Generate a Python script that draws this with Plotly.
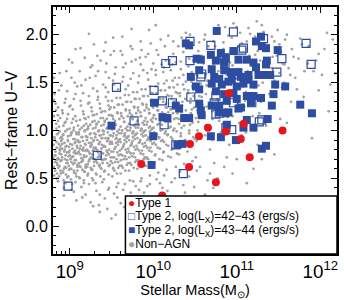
import plotly.graph_objects as go

# ---------------- data (log stellar mass, rest-frame U-V) ----------------
type1_logm = [10.905, 10.655, 10.869, 11.083, 10.548, 10.44, 11.048, 11.548, 9.857, 10.429, 11.155, 10.75, 10.107]
type1_uv   = [1.39, 1.03, 0.99, 1.07, 0.94, 0.86, 0.91, 1.00, 0.65, 0.62, 0.72, 0.46, 0.32]

open_logm = [10.96, 10.44, 10.69, 11.08, 11.32, 11.83, 11.54, 11.89, 10.23, 10.15, 10.44, 10.85, 10.86,
             10.58, 10.57, 10.96, 11.48, 10.01, 10.11, 10.23, 10.45, 10.73, 10.75, 10.96, 11.18, 10.79,
             10.75, 11.30, 10.94, 9.77, 9.56, 10.13, 10.87, 10.27, 9.33, 8.98, 10.36, 11.27, 11.06]
open_uv   = [2.03, 1.93, 1.89, 1.86, 1.96, 1.91, 1.75, 1.69, 1.73, 1.70, 1.73, 1.76, 1.69,
             1.59, 1.56, 1.58, 1.61, 1.42, 1.31, 1.29, 1.35, 1.29, 1.36, 1.29, 1.29, 1.18,
             1.17, 1.11, 1.01, 1.10, 1.45, 1.06, 1.03, 0.85, 0.74, 0.42, 0.55, 1.09, 1.84]

filled_logm = [10.76, 10.43, 10.52, 10.57, 10.69, 10.75, 10.81, 10.85, 10.96, 11.02, 11.23, 11.29, 11.35,
               11.30, 11.49, 11.20, 11.23, 11.35, 11.36, 10.45, 10.51, 10.55, 10.73, 10.79, 10.93, 11.02,
               11.05, 10.94, 10.75, 10.82, 11.00, 10.96, 11.14, 11.20, 11.26, 11.35, 11.40, 11.46, 11.58,
               11.44, 11.29, 11.12, 11.00, 10.88, 10.79, 10.55, 10.57, 10.27, 10.31, 10.01, 10.11, 10.17,
               10.37, 10.43, 10.58, 10.79, 10.87, 10.90, 11.02, 11.17, 11.42, 11.37, 11.76, 11.90, 10.88,
               10.69, 10.81, 10.99, 11.08, 10.00, 10.29, 9.50, 9.98, 11.30, 11.35, 10.70, 11.05, 11.20,
               11.12, 11.20, 10.35, 10.85, 10.39, 10.87, 11.12, 10.55, 10.70, 10.85, 11.14, 10.70, 10.90, 11.08]
filled_uv   = [2.04, 1.89, 1.75, 1.74, 1.79, 1.73, 1.81, 1.71, 1.83, 1.74, 1.93, 1.98, 1.86,
               1.88, 1.84, 1.71, 1.66, 1.69, 1.73, 1.56, 1.46, 1.43, 1.56, 1.54, 1.61, 1.61,
               1.56, 1.53, 1.41, 1.48, 1.46, 1.39, 1.53, 1.48, 1.58, 1.58, 1.58, 1.48, 1.46,
               1.38, 1.34, 1.36, 1.33, 1.31, 1.26, 1.28, 1.21, 1.26, 1.23, 1.29, 1.14, 1.13,
               1.13, 1.13, 1.16, 1.19, 1.18, 1.19, 1.23, 1.29, 1.26, 1.12, 1.27, 1.18, 1.06,
               0.94, 0.93, 0.90, 1.03, 0.94, 0.85, 1.05, 0.64, 0.81, 0.84, 1.26, 1.24, 1.36,
               1.11, 1.03, 0.86, 1.38, 1.91, 1.76, 1.74, 1.63, 1.64, 1.63, 1.58, 1.49, 1.51, 1.49]

# non-AGN field galaxies
gray_pts = [
 (8.81,0.62),(8.83,0.78),(8.85,0.55),(8.82,0.91),(8.87,0.70),(8.84,1.02),(8.89,0.84),(8.81,1.15),(8.86,0.47),
 (8.88,0.99),(8.83,1.28),(8.85,0.66),(8.87,1.42),(8.82,0.74),(8.89,0.58),(8.84,0.88),(8.86,1.10),(8.81,1.55),
 (8.91,0.72),(8.93,0.60),(8.95,0.83),(8.92,0.95),(8.97,0.51),(8.94,1.08),(8.99,0.77),(8.96,0.66),(8.91,1.21),
 (8.98,0.89),(8.93,0.40),(8.95,1.33),(8.92,0.56),(8.97,1.01),(8.99,0.63),(8.94,0.80),(8.96,1.62),(8.91,0.86),
 (8.98,1.17),(8.93,0.32),(8.84,0.69),(8.88,0.81),(8.95,0.74),(8.90,0.93),
 (9.01,0.70),(9.03,0.85),(9.05,0.58),(9.02,0.97),(9.07,0.76),(9.04,1.12),(9.09,0.64),(9.06,0.91),(9.01,1.26),
 (9.08,0.52),(9.03,0.44),(9.05,1.03),(9.02,0.67),(9.07,1.38),(9.09,0.82),(9.04,0.73),(9.06,1.50),(9.01,0.60),
 (9.08,0.98),(9.03,1.71),(9.05,0.36),(9.07,0.88),(9.00,0.79),(9.06,0.69),
 (9.11,0.78),(9.13,0.62),(9.15,0.93),(9.12,0.50),(9.17,1.05),(9.14,0.71),(9.19,0.85),(9.16,1.20),(9.11,0.96),
 (9.18,0.57),(9.13,1.31),(9.15,0.68),(9.12,0.88),(9.17,0.45),(9.19,1.12),(9.14,1.47),(9.16,0.79),(9.11,0.66),
 (9.18,1.00),(9.13,1.86),(9.15,0.30),(9.17,0.74),(9.12,0.81),(9.19,0.62),
 (9.21,0.80),(9.23,0.68),(9.25,0.97),(9.22,0.55),(9.27,1.09),(9.24,0.76),(9.29,0.90),(9.26,1.24),(9.21,0.62),
 (9.28,0.48),(9.23,1.36),(9.25,0.84),(9.22,1.02),(9.27,0.71),(9.29,1.16),(9.24,1.55),(9.26,0.59),(9.21,0.93),
 (9.28,0.79),(9.23,2.01),(9.25,0.25),(9.27,1.68),(9.20,0.73),(9.26,0.87),
 (9.31,0.82),(9.33,0.66),(9.35,1.00),(9.32,0.54),(9.37,1.13),(9.34,0.77),(9.39,0.92),(9.36,1.28),(9.31,0.45),
 (9.38,0.60),(9.33,1.41),(9.35,0.86),(9.32,1.06),(9.37,0.72),(9.39,1.20),(9.34,1.62),(9.36,0.33),(9.31,0.96),
 (9.38,0.81),(9.33,1.78),(9.35,0.22),(9.37,0.95),(9.30,0.70),(9.36,0.64),
 (9.41,0.84),(9.43,0.70),(9.45,1.03),(9.42,0.58),(9.47,1.16),(9.44,0.79),(9.49,0.95),(9.46,1.31),(9.41,0.49),
 (9.48,0.64),(9.43,1.45),(9.45,0.89),(9.42,1.09),(9.47,0.75),(9.49,1.24),(9.44,1.70),(9.46,0.38),(9.41,0.99),
 (9.48,0.86),(9.43,1.92),(9.45,0.18),(9.47,1.55),(9.40,0.76),(9.46,0.92),
 (9.51,0.86),(9.53,0.72),(9.55,1.06),(9.52,0.61),(9.57,1.19),(9.54,0.81),(9.59,0.97),(9.56,1.34),(9.51,0.52),
 (9.58,0.67),(9.53,1.48),(9.55,0.91),(9.52,1.12),(9.57,0.77),(9.59,1.27),(9.54,1.59),(9.56,0.41),(9.51,1.01),
 (9.58,0.88),(9.53,1.83),(9.55,0.12),(9.57,0.30),(9.50,0.78),(9.56,0.95),
 (9.61,0.88),(9.63,0.74),(9.65,1.09),(9.62,0.63),(9.67,1.22),(9.64,0.83),(9.69,1.00),(9.66,1.37),(9.61,0.55),
 (9.68,0.70),(9.63,1.51),(9.65,0.94),(9.62,1.15),(9.67,0.80),(9.69,1.30),(9.64,1.66),(9.66,0.44),(9.61,1.04),
 (9.68,0.92),(9.63,1.98),(9.65,0.20),(9.67,1.43),(9.60,0.79),(9.66,0.97),
 (9.71,0.90),(9.73,0.76),(9.75,1.12),(9.72,0.66),(9.77,1.25),(9.74,0.85),(9.79,1.03),(9.76,1.40),(9.71,0.58),
 (9.78,0.72),(9.73,1.54),(9.75,0.97),(9.72,1.18),(9.77,0.83),(9.79,1.33),(9.74,1.72),(9.76,0.47),(9.71,1.07),
 (9.78,0.95),(9.73,0.35),(9.75,1.85),(9.77,0.15),(9.70,0.81),(9.76,0.99),
 (9.81,0.92),(9.83,0.79),(9.85,1.15),(9.82,0.68),(9.87,1.28),(9.84,0.88),(9.89,1.06),(9.86,1.43),(9.81,0.60),
 (9.88,0.75),(9.83,1.57),(9.85,1.00),(9.82,1.21),(9.87,0.86),(9.89,1.36),(9.84,1.76),(9.86,0.50),(9.81,1.10),
 (9.88,0.98),(9.83,0.38),(9.85,1.93),(9.87,0.27),(9.80,0.84),(9.86,1.02),
 (9.91,0.95),(9.93,0.82),(9.95,1.18),(9.92,0.71),(9.97,1.31),(9.94,0.91),(9.99,1.09),(9.96,1.46),(9.91,0.63),
 (9.98,0.78),(9.93,1.60),(9.95,1.03),(9.92,1.24),(9.97,0.89),(9.99,1.39),(9.94,1.80),(9.96,0.53),(9.91,1.13),
 (9.98,1.01),(9.93,0.42),(9.95,2.05),(9.97,0.24),(9.90,0.87),
 (10.01,0.98),(10.03,0.85),(10.05,1.21),(10.02,0.74),(10.07,1.34),(10.04,0.94),(10.09,1.12),(10.06,1.49),
 (10.01,0.66),(10.08,0.81),(10.03,1.63),(10.05,1.06),(10.02,1.27),(10.07,0.92),(10.09,1.42),(10.04,1.84),
 (10.06,0.56),(10.01,1.16),(10.08,0.45),(10.03,2.10),
 (10.11,1.01),(10.13,0.88),(10.15,1.24),(10.12,0.77),(10.17,1.37),(10.14,0.97),(10.19,1.15),(10.16,1.52),
 (10.11,0.69),(10.18,0.84),(10.13,1.66),(10.15,1.09),(10.12,1.30),(10.17,0.95),(10.19,1.45),(10.14,1.88),
 (10.16,0.59),(10.11,0.40),(10.18,1.19),
 (10.21,1.04),(10.23,0.91),(10.25,1.27),(10.22,0.80),(10.27,1.40),(10.24,1.00),(10.29,1.18),(10.26,1.55),
 (10.21,0.72),(10.28,0.87),(10.23,1.69),(10.25,1.12),(10.22,1.33),(10.27,0.62),(10.29,1.48),(10.24,1.93),
 (10.26,0.50),(10.21,1.22),
 (10.31,1.07),(10.33,0.94),(10.35,1.30),(10.32,0.83),(10.37,1.43),(10.34,1.03),(10.39,1.21),(10.36,1.58),
 (10.31,0.75),(10.38,0.90),(10.33,1.72),(10.35,1.15),(10.32,1.36),(10.37,0.65),(10.39,1.51),(10.34,1.97),
 (10.36,0.43),
 (10.41,1.10),(10.43,0.97),(10.45,1.33),(10.42,0.86),(10.47,1.46),(10.44,1.06),(10.49,1.24),(10.46,1.61),
 (10.41,0.78),(10.48,0.93),(10.43,1.75),(10.45,1.18),(10.42,1.39),(10.47,0.68),(10.49,1.54),(10.44,2.00),
 (10.51,1.13),(10.53,1.00),(10.55,1.36),(10.52,0.89),(10.57,1.49),(10.54,1.09),(10.59,1.27),(10.56,1.64),
 (10.51,0.72),(10.58,1.78),(10.53,1.21),(10.55,1.92),(10.52,0.58),(10.57,1.42),
 (10.61,1.16),(10.63,1.38),(10.65,1.52),(10.62,0.95),(10.67,1.67),(10.64,1.25),(10.69,1.81),(10.66,1.05),
 (10.61,1.95),(10.68,0.80),(10.63,1.59),(10.65,0.48),
 (10.71,1.20),(10.73,1.42),(10.75,1.55),(10.72,1.70),(10.77,1.33),(10.74,1.88),(10.79,1.10),(10.76,2.05),
 (10.71,0.90),(10.78,1.62),(10.73,0.66),(10.72,0.40),
 (10.81,1.25),(10.83,1.47),(10.85,1.60),(10.82,1.75),(10.87,1.37),(10.84,1.92),(10.89,1.14),(10.86,2.08),
 (10.81,0.98),(10.88,0.72),
 (10.91,1.30),(10.93,1.52),(10.95,1.68),(10.92,1.82),(10.97,1.41),(10.94,1.97),(10.99,1.20),(10.96,2.12),
 (10.91,0.85),(10.95,0.55),
 (11.01,1.35),(11.03,1.57),(11.05,1.73),(11.02,1.88),(11.07,1.46),(11.04,2.02),(11.09,1.25),(11.06,0.95),
 (11.11,1.40),(11.13,1.62),(11.15,1.78),(11.12,1.93),(11.17,1.51),(11.14,2.07),(11.19,1.15),(11.20,0.60),
 (11.21,1.45),(11.23,1.67),(11.25,1.83),(11.22,1.98),(11.27,1.55),(11.24,2.14),(11.29,1.30),
 (11.31,1.50),(11.33,1.72),(11.35,1.88),(11.32,2.03),(11.37,1.60),(11.39,1.38),(11.30,0.70),
 (11.41,1.55),(11.43,1.77),(11.45,1.93),(11.42,1.65),(11.47,1.45),(11.49,2.05),(11.45,0.75),
 (11.51,1.60),(11.53,1.82),(11.55,1.70),(11.57,1.50),(11.58,1.95),(11.60,1.08),
 (11.62,1.65),(11.66,1.85),(11.70,1.55),(11.74,1.75),(11.78,1.90),(11.90,0.92),
 (11.85,1.70),(11.92,1.62),(11.98,1.80),(12.05,1.85),(12.12,1.48),(12.15,1.95),(12.10,1.20),
]

gray_core = [
 (8.803,0.71),(8.817,0.93),(8.826,0.58),(8.838,1.07),(8.845,0.82),(8.852,0.64),(8.861,0.97),(8.873,0.52),(8.879,0.76),
 (8.886,1.13),(8.892,0.68),(8.897,0.89),(8.808,0.85),(8.814,0.53),(8.829,0.74),(8.834,1.21),(8.848,0.96),(8.857,0.71),
 (8.866,0.61),(8.871,1.04),(8.883,0.79),(8.894,0.55),(8.811,1.32),(8.822,0.67),(8.843,0.50),(8.858,1.16),(8.869,0.86),
 (8.877,0.63),(8.889,0.92),(8.899,0.75),
 (8.904,0.69),(8.912,0.91),(8.919,0.57),(8.925,1.05),(8.933,0.78),(8.941,0.62),(8.947,0.99),(8.955,0.54),(8.962,0.84),
 (8.968,1.12),(8.974,0.66),(8.981,0.94),(8.987,0.73),(8.993,0.59),(8.998,1.02),(8.908,0.81),(8.916,1.18),(8.928,0.48),
 (8.937,0.87),(8.944,0.70),(8.951,1.09),(8.959,0.61),(8.966,0.77),(8.977,0.90),(8.984,0.52),(8.991,0.83),(8.996,1.25),
 (8.922,0.96),(8.948,0.45),(8.971,0.69),
 (9.003,0.74),(9.011,0.95),(9.018,0.60),(9.024,1.08),(9.032,0.81),(9.039,0.65),(9.046,1.00),(9.053,0.56),(9.061,0.87),
 (9.067,1.15),(9.074,0.69),(9.082,0.96),(9.088,0.76),(9.094,0.62),(9.099,1.05),(9.007,0.86),(9.015,0.49),(9.027,0.72),
 (9.036,1.22),(9.043,0.91),(9.057,0.66),(9.064,0.79),(9.071,0.55),(9.078,1.10),(9.085,0.84),(9.092,0.58),(9.021,0.98),
 (9.049,0.77),(9.069,0.46),(9.096,0.90),
 (9.104,0.77),(9.109,0.98),(9.117,0.63),(9.123,1.11),(9.131,0.84),(9.138,0.67),(9.145,1.03),(9.152,0.59),(9.158,0.89),
 (9.166,1.17),(9.173,0.72),(9.179,0.99),(9.186,0.79),(9.192,0.64),(9.198,1.07),(9.107,0.88),(9.114,0.51),(9.127,0.75),
 (9.135,1.26),(9.142,0.93),(9.156,0.69),(9.163,0.82),(9.171,0.57),(9.177,1.13),(9.184,0.86),(9.191,0.61),(9.121,1.01),
 (9.148,0.80),(9.169,0.48),(9.195,0.94),
 (9.203,0.79),(9.211,1.01),(9.217,0.65),(9.224,1.14),(9.231,0.87),(9.238,0.70),(9.246,1.06),(9.252,0.61),(9.259,0.92),
 (9.265,1.20),(9.273,0.75),(9.279,1.02),(9.286,0.82),(9.292,0.67),(9.297,1.10),(9.206,0.90),(9.214,0.53),(9.227,0.78),
 (9.235,1.29),(9.242,0.96),(9.256,0.72),(9.263,0.85),(9.271,0.59),(9.277,1.16),(9.284,0.89),(9.291,0.63),(9.221,1.04),
 (9.249,0.83),(9.268,0.50),(9.295,0.97),
 (9.302,0.81),(9.309,1.03),(9.316,0.68),(9.323,1.17),(9.331,0.90),(9.338,0.72),(9.345,1.09),(9.351,0.63),(9.359,0.95),
 (9.364,1.23),(9.372,0.77),(9.379,1.05),(9.385,0.85),(9.391,0.69),(9.398,1.13),(9.306,0.93),(9.313,0.55),(9.327,0.80),
 (9.334,1.32),(9.342,0.99),(9.355,0.74),(9.362,0.88),(9.369,0.61),(9.376,1.19),(9.383,0.92),(9.394,0.66),(9.321,1.07),
 (9.348,0.86),(9.367,0.52),(9.396,1.00),
 (9.403,0.83),(9.408,1.06),(9.415,0.70),(9.422,1.20),(9.429,0.92),(9.437,0.74),(9.444,1.12),(9.451,0.66),(9.457,0.98),
 (9.463,1.26),(9.471,0.80),(9.477,1.08),(9.484,0.88),(9.491,0.72),(9.497,1.16),(9.405,0.96),(9.412,0.57),(9.426,0.83),
 (9.433,1.35),(9.441,1.02),(9.454,0.77),(9.461,0.91),(9.468,0.63),(9.475,1.22),(9.482,0.95),(9.493,0.68),(9.419,1.10),
 (9.447,0.89),(9.466,0.54),(9.495,1.03),
 (9.502,0.88),(9.509,0.72),(9.514,1.15),(9.521,0.60),(9.527,0.97),(9.533,1.24),(9.540,0.81),(9.546,0.67),(9.553,1.06),
 (9.559,0.92),(9.565,0.55),(9.572,1.18),(9.578,0.85),(9.585,0.74),(9.591,1.01),(9.597,0.63),(9.505,1.31),(9.517,0.94),
 (9.524,0.78),(9.536,0.58),(9.543,1.10),(9.556,0.87),(9.562,0.70),(9.569,0.99),(9.575,1.27),(9.582,0.61),(9.588,0.90),
 (9.594,1.12),(9.511,0.66),(9.549,0.83),
 (9.603,0.91),(9.608,0.75),(9.615,1.18),(9.622,0.63),(9.628,1.00),(9.634,1.27),(9.641,0.84),(9.647,0.70),(9.654,1.09),
 (9.660,0.95),(9.666,0.58),(9.673,1.21),(9.679,0.88),(9.686,0.77),(9.692,1.04),(9.698,0.66),(9.606,1.34),(9.618,0.97),
 (9.625,0.81),(9.637,0.61),(9.644,1.13),(9.657,0.90),(9.663,0.73),(9.670,1.02),(9.676,1.30),(9.683,0.64),(9.689,0.93),
 (9.695,1.15),(9.612,0.69),(9.650,0.86),
 (9.704,0.94),(9.709,0.78),(9.716,1.21),(9.723,0.66),(9.729,1.03),(9.735,1.30),(9.742,0.87),(9.748,0.73),(9.755,1.12),
 (9.761,0.98),(9.767,0.61),(9.774,1.24),(9.780,0.91),(9.787,0.80),(9.793,1.07),(9.799,0.69),(9.707,1.37),(9.719,1.00),
 (9.726,0.84),(9.738,0.64),(9.745,1.16),(9.758,0.93),(9.764,0.76),(9.771,1.05),(9.777,1.33),(9.784,0.67),(9.790,0.96),
 (9.796,1.18),(9.713,0.72),(9.751,0.89),
 (9.804,0.97),(9.810,0.81),(9.817,1.24),(9.823,0.69),(9.830,1.06),(9.836,1.33),(9.843,0.90),(9.849,0.76),(9.856,1.15),
 (9.862,1.01),(9.868,0.64),(9.875,1.27),(9.881,0.94),(9.888,0.83),(9.894,1.10),(9.899,0.72),(9.807,1.40),(9.820,1.03),
 (9.827,0.87),(9.839,0.67),(9.846,1.19),(9.859,0.96),(9.865,0.79),(9.872,1.08),(9.878,1.36),(9.885,0.70),(9.891,0.99),
 (9.897,1.21),
 (9.905,1.00),(9.911,0.84),(9.918,1.27),(9.924,0.72),(9.931,1.09),(9.937,1.36),(9.944,0.93),(9.950,0.79),(9.957,1.18),
 (9.963,1.04),(9.969,0.67),(9.976,1.30),(9.982,0.97),(9.989,0.86),(9.995,1.13),(9.908,1.43),(9.921,1.06),(9.928,0.90),
 (9.940,0.70),(9.947,1.22),(9.960,0.99),(9.966,0.82),(9.973,1.11),(9.979,1.39),(9.992,1.02),(9.998,1.24),
 (10.004,1.03),(10.011,0.87),(10.018,1.30),(10.025,0.75),(10.032,1.12),(10.039,1.39),(10.046,0.96),(10.053,0.82),
 (10.060,1.21),(10.067,1.07),(10.074,0.70),(10.081,1.33),(10.088,1.00),(10.095,0.89),(10.008,1.16),(10.029,1.46),
 (10.050,1.25),(10.071,0.93),(10.092,1.42),(10.015,0.66),
 (10.104,1.06),(10.112,0.90),(10.119,1.33),(10.127,0.78),(10.134,1.15),(10.142,1.42),(10.149,0.99),(10.157,0.85),
 (10.164,1.24),(10.172,1.10),(10.179,0.73),(10.187,1.36),(10.194,1.03),(10.108,1.19),(10.131,1.49),(10.153,1.28),
 (10.176,0.96),(10.197,1.45),
 (10.205,1.09),(10.213,0.93),(10.221,1.36),(10.229,0.81),(10.237,1.18),(10.245,1.45),(10.253,1.02),(10.261,0.88),
 (10.269,1.27),(10.277,1.13),(10.285,0.76),(10.293,1.39),(10.209,1.22),(10.233,1.52),(10.257,1.31),(10.281,0.99),
 (10.305,1.12),(10.318,1.39),(10.331,0.97),(10.344,1.26),(10.357,1.48),(10.370,1.05),(10.383,1.33),(10.396,0.88),
 (10.311,1.55),(10.337,1.19),(10.405,1.15),(10.418,1.42),(10.431,1.00),(10.444,1.29),(10.457,1.51),(10.470,1.08),
 (10.483,1.36),(10.496,0.91),(10.424,1.58),(10.462,1.22),
]

gray_upper = [
 (8.82,1.38),(8.86,1.24),(8.90,1.47),(8.94,1.29),(8.97,1.41),(9.02,1.55),(9.05,1.33),(9.09,1.46),(9.12,1.62),
 (9.16,1.39),(9.19,1.53),(9.22,1.28),(9.25,1.66),(9.28,1.44),(9.31,1.57),(9.34,1.35),(9.37,1.73),(9.40,1.48),
 (9.43,1.61),(9.46,1.40),(9.49,1.79),(9.52,1.52),(9.55,1.66),(9.58,1.43),(9.61,1.83),(9.64,1.56),(9.67,1.70),
 (9.70,1.47),(9.73,1.88),(9.76,1.60),(9.79,1.74),(9.82,1.50),(9.85,1.69),(9.88,1.63),(9.91,1.77),(9.94,1.53),
 (9.97,1.91),(10.00,1.70),(10.03,1.58),(10.06,1.79),(10.09,1.95),(10.12,1.61),(10.15,1.73),(10.18,1.99),
 (10.21,1.63),(10.24,1.80),(10.27,1.71),(10.30,1.88),(10.33,1.64),(10.36,1.82),(10.39,2.02),(10.42,1.67),
 (10.45,1.86),(10.48,1.73),(8.88,1.60),(8.99,1.74),(9.07,1.85),(9.18,1.76),(9.29,1.90),(9.41,1.83),(9.52,1.97),
 (9.63,1.79),(9.74,2.06),(9.86,1.84),(9.98,1.64),(10.10,1.69),
]

gray_low = [
 (9.02,0.38),(9.08,0.27),(9.14,0.41),(9.19,0.33),(9.23,0.44),(9.28,0.21),(9.32,0.37),(9.36,0.15),(9.39,0.46),
 (9.42,0.29),(9.47,0.40),(9.50,0.08),(9.53,0.34),(9.58,0.45),(9.61,0.24),(9.64,0.38),(9.69,0.13),(9.72,0.48),
 (9.75,0.31),(9.79,0.42),(9.82,0.20),(9.85,0.47),(9.89,0.35),(9.92,0.16),(9.96,0.44),(10.00,0.30),(10.04,0.49),
 (10.08,0.22),(10.13,0.53),(10.17,0.37),(10.22,0.46),(10.27,0.28),(10.32,0.57),(10.38,0.35),(10.43,0.52),
 (10.49,0.41),(10.56,0.62),(10.62,0.33),(10.68,0.55),(10.77,0.50),(10.85,0.62),(11.00,0.70),(11.12,0.45),(11.25,0.85),
]

gray_high = [
 (10.52,1.58),(10.54,1.83),(10.58,1.35),(10.60,1.70),(10.62,2.00),(10.64,1.47),(10.66,1.88),(10.68,1.62),(10.70,1.29),
 (10.72,1.93),(10.74,1.52),(10.76,1.76),(10.78,2.10),(10.80,1.41),(10.82,1.67),(10.84,1.85),(10.86,1.22),(10.88,1.58),
 (10.90,1.99),(10.92,1.71),(10.94,1.36),(10.96,1.80),(10.98,1.55),(11.00,2.08),(11.02,1.64),(11.04,1.44),(11.06,1.91),
 (11.08,1.72),(11.10,1.31),(11.12,1.85),(11.14,1.57),(11.16,2.01),(11.18,1.68),(11.20,1.38),(11.22,1.79),(11.24,1.95),
 (11.26,1.47),(11.28,1.73),(11.30,2.10),(11.33,1.58),(11.36,1.83),(11.39,1.66),(11.42,1.98),(11.45,1.52),(11.48,1.78),
 (11.51,1.90),(11.54,1.45),(11.57,1.69),(11.60,2.00),(11.64,1.58),(11.68,1.77),(11.72,1.43),(11.76,1.96),(11.81,1.62),
 (11.86,1.88),(11.95,1.73),(12.02,1.58),(12.08,2.02),
 (10.55,1.15),(10.63,1.05),(10.71,1.12),(10.79,0.95),(10.87,1.05),(10.95,1.15),(11.03,1.08),(11.11,0.98),(11.19,1.02),
 (11.27,1.18),(11.35,1.05),(11.43,1.25),(11.52,1.12),(11.65,1.30),(11.80,1.35),(11.98,1.42),(12.18,1.60),
]

all_gray = gray_pts + gray_core + gray_upper + gray_low + gray_high
gray_logm = [p[0] for p in all_gray]
gray_uv = [p[1] for p in all_gray]

legend_labels = ["Type 1", "Type 2, log(L<sub>X</sub>)=42−43 (ergs/s)",
                 "Type 2, log(L<sub>X</sub>)=43−44 (ergs/s)", "Non−AGN"]

RED = "#e8161c"
BLUE = "#2d4da2"
GRAY = "#a3a3a3"

def m(v):
    return [10 ** x for x in v]

fig = go.Figure()
fig.add_trace(go.Scatter(x=m(gray_logm), y=gray_uv, mode="markers",
                         marker=dict(color=GRAY, size=2.8, line=dict(width=0)), showlegend=False))
fig.add_trace(go.Scatter(x=m(filled_logm), y=filled_uv, mode="markers",
                         marker=dict(symbol="square", color=BLUE, size=8, line=dict(width=0)), showlegend=False))
fig.add_trace(go.Scatter(x=m(open_logm), y=open_uv, mode="markers",
                         marker=dict(symbol="square-open", color=BLUE, size=8, line=dict(width=1.2, color=BLUE)),
                         showlegend=False))
fig.add_trace(go.Scatter(x=m(type1_logm), y=type1_uv, mode="markers",
                         marker=dict(symbol="circle", color=RED, size=8, line=dict(width=0)), showlegend=False))

FONT = "Liberation Sans, Arial, sans-serif"

# legend box drawn as shape + annotations
fig.add_shape(type="rect", xref="paper", yref="paper", x0=0.255, x1=1.0, y0=0.0, y1=0.235,
              fillcolor="white", line=dict(color="black", width=1.5), layer="above")
symbols = [f"<span style='color:{RED}'>●</span>",
           f"<span style='color:{BLUE}'>□</span>",
           f"<span style='color:{BLUE}'>■</span>",
           f"<span style='color:{GRAY}'>●</span>"]
ypos = [0.205, 0.150, 0.095, 0.040]
for sym, lab, yy in zip(symbols, legend_labels, ypos):
    fig.add_annotation(text=sym + lab, xref="paper", yref="paper", x=0.258, y=yy, xanchor="left", yanchor="middle",
                       showarrow=False, font=dict(family=FONT, size=12, color="black"))

fig.update_layout(
    width=344, height=300,
    margin=dict(l=53, r=5, t=7, b=35),
    paper_bgcolor="white", plot_bgcolor="white",
    font=dict(family=FONT, size=15, color="black"),
    showlegend=False,
)
fig.update_xaxes(type="log", range=[8.8, 12.2], dtick=1, exponentformat="power",
                 ticks="inside", ticklen=6, tickwidth=1.2, tickcolor="black",
                 minor=dict(ticks="inside", ticklen=3, dtick="D1", tickcolor="black", showgrid=False),
                 showline=True, linecolor="black", linewidth=1.8, mirror="ticks",
                 showgrid=False, zeroline=False,
                 tickfont=dict(size=15),
                 title=dict(text="Stellar Mass(M<sub>⊙</sub>)", font=dict(size=14.5), standoff=3))
fig.update_yaxes(range=[-0.29, 2.29], dtick=0.5, tick0=0, tickformat=".1f",
                 ticks="inside", ticklen=6, tickwidth=1.2, tickcolor="black",
                 minor=dict(ticks="inside", ticklen=3, dtick=0.1, tickcolor="black", showgrid=False),
                 showline=True, linecolor="black", linewidth=1.8, mirror="ticks",
                 showgrid=False, zeroline=False,
                 tickfont=dict(size=16),
                 title=dict(text="Rest−frame U−V", font=dict(size=16), standoff=4))

fig.write_html("out.html")
